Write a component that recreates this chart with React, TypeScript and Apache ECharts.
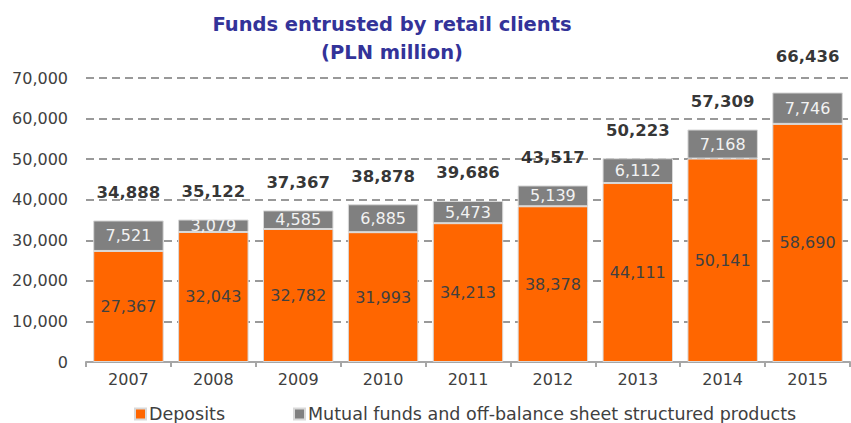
import React, { useEffect, useRef } from "react";
import * as echarts from "echarts";

const years = ["2007", "2008", "2009", "2010", "2011", "2012", "2013", "2014", "2015"];
const deposits = [27367, 32043, 32782, 31993, 34213, 38378, 44111, 50141, 58690];
const mutualFunds = [7521, 3079, 4585, 6885, 5473, 5139, 6112, 7168, 7746];
const totals = [34888, 35122, 37367, 38878, 39686, 43517, 50223, 57309, 66436];

const FONT = "'DejaVu Sans', sans-serif";
const fmt = (v: number) => v.toLocaleString("en-US");

export default function App() {
  const ref = useRef<HTMLDivElement>(null);
  useEffect(() => {
    document.body.style.margin = "0";
    if (!ref.current) return;
    const chart = echarts.init(ref.current, null, { renderer: "svg" });
    chart.setOption({
      animation: false,
      textStyle: { fontFamily: FONT },
      title: {
        text: "Funds entrusted by retail clients\n(PLN million)",
        left: 392,
        top: 10,
        padding: 0,
        textAlign: "center",
        textStyle: {
          fontFamily: FONT,
          fontSize: 19.5,
          fontWeight: "bold",
          color: "#333399",
          lineHeight: 28,
        },
      },
      legend: {
        top: 405,
        left: 134,
        padding: 0,
        itemWidth: 11,
        itemHeight: 11,
        itemGap: 68,
        icon: "rect",
        textStyle: {
          fontFamily: FONT,
          fontSize: 17.5,
          color: "#404040",
          lineHeight: 16,
          padding: [0, 0, 0, -2],
        },
        data: ["Deposits", "Mutual funds and off-balance sheet structured products"],
      },
      grid: { left: 86, right: 1, top: 78, bottom: 61 },
      xAxis: {
        type: "category",
        data: years,
        axisLine: { lineStyle: { color: "#a6a6a6", width: 2 } },
        axisTick: { show: true, length: 5, lineStyle: { color: "#a6a6a6", width: 2 } },
        axisLabel: { fontFamily: FONT, fontSize: 16, color: "#404040", margin: 9 },
      },
      yAxis: {
        type: "value",
        min: 0,
        max: 70000,
        interval: 10000,
        axisLine: { show: false },
        axisTick: { show: false },
        axisLabel: {
          fontFamily: FONT,
          fontSize: 16,
          color: "#404040",
          margin: 18,
          formatter: (v: number) => fmt(v),
        },
        splitLine: { lineStyle: { color: "#999999", width: 2, type: [8, 5] } },
      },
      series: [
        {
          name: "Deposits",
          type: "bar",
          stack: "total",
          barWidth: "83%",
          data: deposits,
          itemStyle: { color: "#FF6600", borderColor: "#d9d9d9", borderWidth: 1 },
          label: {
            show: true,
            position: "inside",
            fontFamily: FONT,
            fontSize: 16,
            color: "#404040",
            formatter: (p: any) => fmt(p.value),
          },
          z: 3,
        },
        {
          name: "Mutual funds and off-balance sheet structured products",
          type: "bar",
          stack: "total",
          data: mutualFunds,
          itemStyle: { color: "#808080", borderColor: "#d9d9d9", borderWidth: 1 },
          label: {
            show: true,
            position: "inside",
            fontFamily: FONT,
            fontSize: 16,
            color: "#f2f2f2",
            formatter: (p: any) => fmt(p.value),
          },
          z: 3,
        },
        {
          name: "Total",
          type: "scatter",
          symbolSize: 1,
          itemStyle: { color: "rgba(0,0,0,0)" },
          data: totals.map((v, i) =>
            i === totals.length - 1 ? { value: v, label: { distance: 27 } } : v
          ),
          label: {
            show: true,
            position: "top",
            distance: 19,
            fontFamily: FONT,
            fontSize: 16.5,
            fontWeight: "bold",
            color: "#000000",
            formatter: (p: any) => fmt(p.value),
          },
          z: 5,
        },
      ],
    });
    return () => chart.dispose();
  }, []);
  return <div ref={ref} style={{ width: 851, height: 423 }} />;
}
